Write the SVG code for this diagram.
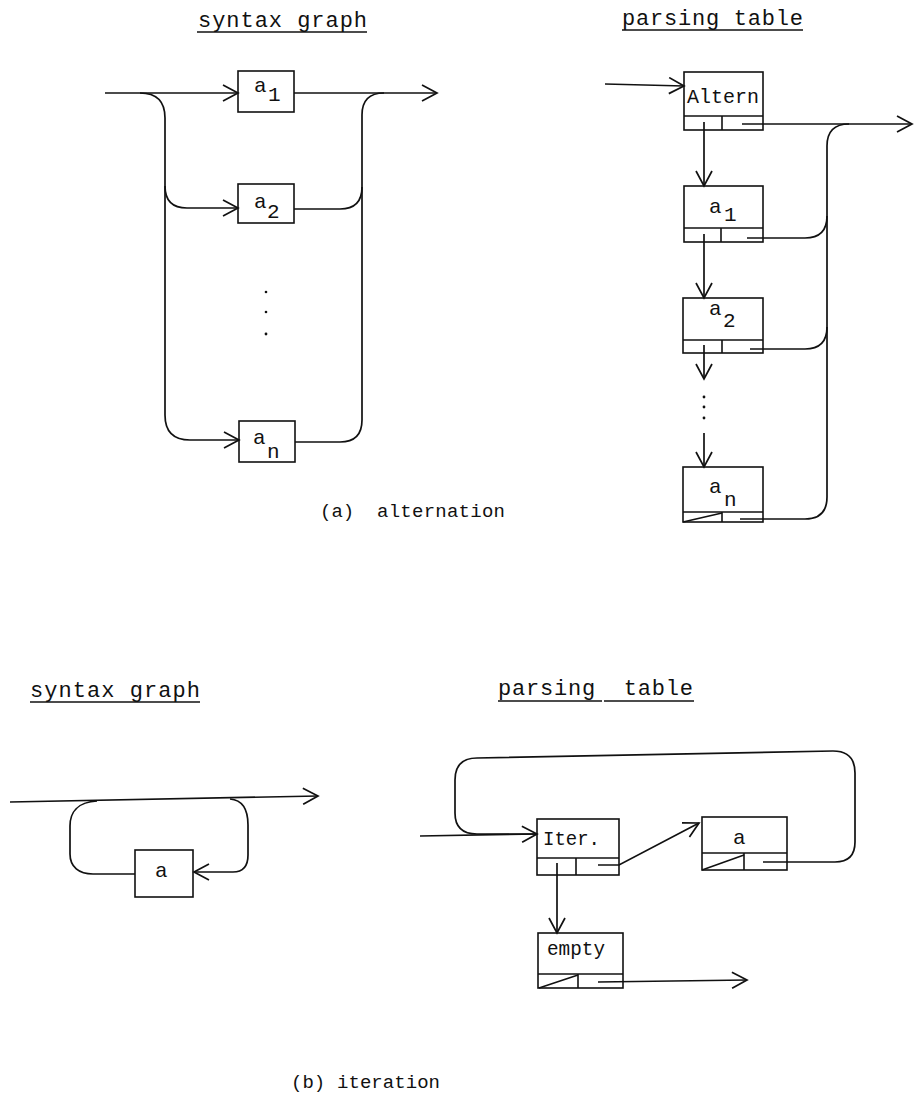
<svg xmlns="http://www.w3.org/2000/svg" width="914" height="1099" viewBox="0 0 914 1099">
<defs>
<marker id="arr" viewBox="0 0 18 18" refX="16" refY="9" markerWidth="18" markerHeight="18" markerUnits="userSpaceOnUse" orient="auto">
<path d="M1,1 L16,9 L1,17" fill="none" stroke="#111" stroke-width="1.7" stroke-linejoin="miter"/>
</marker>
<style>
.t{font-family:"Liberation Mono","DejaVu Sans Mono",monospace;fill:#111}
.title{font-size:22px}
.lbl{font-size:21px}
.cap{font-size:19px}
.ln{fill:none;stroke:#111;stroke-width:1.7}
.box{fill:none;stroke:#111;stroke-width:1.6}
.u{stroke:#111;stroke-width:1.4}
</style>
</defs>
<rect width="914" height="1099" fill="#fff"/>

<!-- titles -->
<g id="titles">
<text class="t title" x="198" y="27" textLength="169" lengthAdjust="spacing">syntax graph</text>
<line class="u" x1="197" y1="32" x2="367" y2="32"/>
<text class="t title" x="622" y="25" textLength="181" lengthAdjust="spacing">parsing table</text>
<line class="u" x1="622" y1="30" x2="803" y2="30"/>
<text class="t title" x="30" y="697" textLength="170" lengthAdjust="spacing">syntax graph</text>
<line class="u" x1="30" y1="702" x2="200" y2="702"/>
<text class="t title" x="498" y="695" textLength="195" lengthAdjust="spacing" xml:space="preserve">parsing  table</text>
<line class="u" x1="498" y1="701" x2="602" y2="701"/>
<line class="u" x1="604" y1="701" x2="694" y2="701"/>
<text class="t cap" x="320" y="517">(a)</text>
<text class="t cap" x="377" y="517" textLength="128" lengthAdjust="spacing">alternation</text>
<text class="t cap" x="291" y="1088">(b)</text>
<text class="t cap" x="337" y="1088" textLength="103" lengthAdjust="spacing">iteration</text>
</g>

<!-- connectors -->
<g id="connectors">
<!-- top-left syntax graph -->
<path class="ln" d="M105,93 L238,93" marker-end="url(#arr)"/>
<path class="ln" d="M294,93 L437,93" marker-end="url(#arr)"/>
<path class="ln" d="M140,93 Q165,93 165,118 L165,415 Q165,440 190,440 L239,440" marker-end="url(#arr)"/>
<path class="ln" d="M165,186 Q165,208 187,208 L238,208" marker-end="url(#arr)"/>
<path class="ln" d="M294,209 L340,209 Q362,209 362,187"/>
<path class="ln" d="M295,442 L340,442 Q362,442 362,420 L362,115 Q362,93 384,93"/>
<circle cx="266" cy="292" r="1.3" fill="#111"/>
<circle cx="266" cy="312" r="1.3" fill="#111"/>
<circle cx="266" cy="334" r="1.4" fill="#111"/>

<!-- top-right parsing table -->
<path class="ln" d="M605,84 L684,86" marker-end="url(#arr)"/>
<path class="ln" d="M742,124 L912,124" marker-end="url(#arr)"/>
<path class="ln" d="M740,519 L805,519 Q827,519 827,497 L827,146 Q827,124 849,124"/>
<path class="ln" d="M747,238 L805,238 Q827,238 827,216"/>
<path class="ln" d="M750,349 L805,349 Q827,349 827,327"/>
<path class="ln" d="M704,122 L704,186" marker-end="url(#arr)"/>
<path class="ln" d="M704,234 L704,298" marker-end="url(#arr)"/>
<path class="ln" d="M704,345 L704,379" marker-end="url(#arr)"/>
<path class="ln" d="M704,433 L704,467" marker-end="url(#arr)"/>
<circle cx="704" cy="397" r="1.4" fill="#111"/>
<circle cx="704" cy="407" r="1.4" fill="#111"/>
<circle cx="704" cy="418" r="1.4" fill="#111"/>

<!-- bottom-left syntax graph -->
<path class="ln" d="M10,802 L318,796" marker-end="url(#arr)"/>
<path class="ln" d="M97,801 C77,802 70,813 70,826 L70,854 C70,867 79,874 93,874 L135,874"/>
<path class="ln" d="M230,799 C243,800 248,811 248,825 L248,855 C248,866 243,872 233,872 L194,872" marker-end="url(#arr)"/>

<!-- bottom-right parsing table -->
<path class="ln" d="M420,836 L537,834" marker-end="url(#arr)"/>
<path class="ln" d="M763,862 L835,862 Q855,862 855,842 L855,773 Q855,751 833,751 L477,758 Q455,758 455,780 L455,813 Q455,834 477,834 L537,834"/>
<path class="ln" d="M598,865 L619,865 L699,823" marker-end="url(#arr)"/>
<path class="ln" d="M557,863 L557,933" marker-end="url(#arr)"/>
<path class="ln" d="M598,982 L747,980" marker-end="url(#arr)"/>
</g>

<!-- top-left nodes -->
<g id="sg-a1">
<rect class="box" x="238" y="71" width="56" height="41"/>
<text class="t lbl"><tspan x="254" y="92">a</tspan><tspan x="268" y="101">1</tspan></text>
</g>
<g id="sg-a2">
<rect class="box" x="238" y="184" width="56" height="39"/>
<text class="t lbl"><tspan x="254" y="208">a</tspan><tspan x="267" y="218">2</tspan></text>
</g>
<g id="sg-an">
<rect class="box" x="239" y="421" width="56" height="41"/>
<text class="t lbl"><tspan x="253" y="444">a</tspan><tspan x="267" y="458">n</tspan></text>
</g>

<!-- top-right nodes -->
<g id="pt-altern">
<rect class="box" x="684" y="72" width="79" height="58"/>
<line class="box" x1="684" y1="116" x2="763" y2="116"/>
<line class="box" x1="722" y1="116" x2="722" y2="130"/>
<text class="t lbl" x="687" y="103" textLength="72" lengthAdjust="spacingAndGlyphs">Altern</text>
</g>
<g id="pt-a1">
<rect class="box" x="684" y="186" width="79" height="56"/>
<line class="box" x1="684" y1="228" x2="763" y2="228"/>
<line class="box" x1="721" y1="228" x2="721" y2="242"/>
<text class="t lbl"><tspan x="709" y="213">a</tspan><tspan x="724" y="221">1</tspan></text>
</g>
<g id="pt-a2">
<rect class="box" x="683" y="298" width="80" height="55"/>
<line class="box" x1="683" y1="340" x2="763" y2="340"/>
<line class="box" x1="722" y1="340" x2="722" y2="353"/>
<text class="t lbl"><tspan x="709" y="315">a</tspan><tspan x="723" y="327">2</tspan></text>
</g>
<g id="pt-an">
<rect class="box" x="683" y="467" width="80" height="55"/>
<line class="box" x1="683" y1="512" x2="763" y2="512"/>
<line class="box" x1="722" y1="512" x2="722" y2="522"/>
<line class="box" x1="683" y1="522" x2="722" y2="513"/>
<text class="t lbl"><tspan x="709" y="493">a</tspan><tspan x="724" y="506">n</tspan></text>
</g>

<!-- bottom-left node -->
<g id="it-a">
<rect class="box" x="135" y="850" width="58" height="47"/>
<text class="t lbl" x="155" y="877">a</text>
</g>

<!-- bottom-right nodes -->
<g id="pt-iter">
<rect class="box" x="537" y="819" width="82" height="56"/>
<line class="box" x1="537" y1="858" x2="619" y2="858"/>
<line class="box" x1="576" y1="858" x2="576" y2="875"/>
<text class="t lbl" x="543" y="845" textLength="57" lengthAdjust="spacingAndGlyphs">Iter.</text>
</g>
<g id="pt-a">
<rect class="box" x="702" y="817" width="85" height="53"/>
<line class="box" x1="702" y1="853" x2="787" y2="853"/>
<line class="box" x1="744" y1="853" x2="744" y2="870"/>
<line class="box" x1="702" y1="870" x2="744" y2="855"/>
<text class="t lbl" x="733" y="844">a</text>
</g>
<g id="pt-empty">
<rect class="box" x="538" y="933" width="85" height="55"/>
<line class="box" x1="538" y1="974" x2="623" y2="974"/>
<line class="box" x1="578" y1="974" x2="578" y2="988"/>
<line class="box" x1="539" y1="988" x2="578" y2="975"/>
<text class="t lbl" x="547" y="955" textLength="58" lengthAdjust="spacingAndGlyphs">empty</text>
</g>
</svg>
